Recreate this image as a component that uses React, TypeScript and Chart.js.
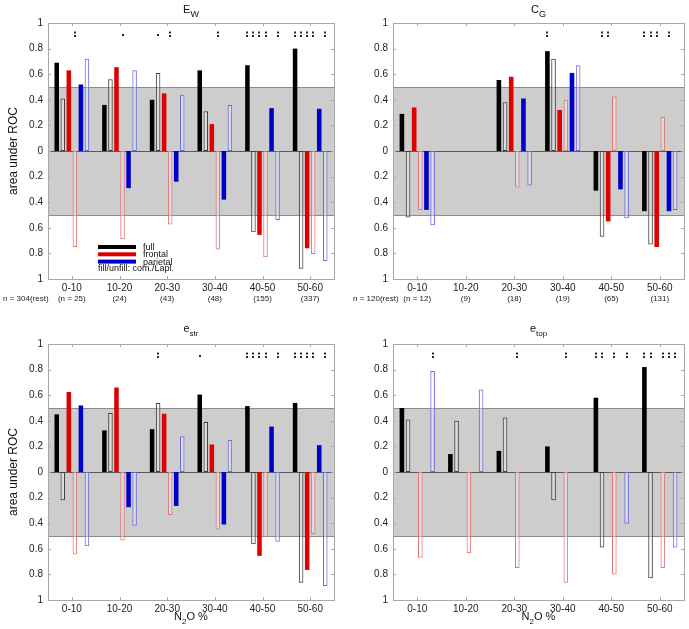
import React, { useEffect, useRef } from 'react';
import { Chart, registerables } from 'chart.js';
Chart.register(...registerables);

const FONT = '"Liberation Sans", Arial, Helvetica, sans-serif';

const categories = ['0-10', '10-20', '20-30', '30-40', '40-50', '50-60'];
const seriesNames = ['full', 'frontal', 'parietal'];
const legendNote = 'fill/unfill: com./Lapl.';
const xAxisTitle = ['N', '2', 'O %'];
const yAxisTitle = 'area under ROC';
const bandLimit = 0.5;
const sigLevel = 0.91;

// E_W  (positive = up, negative = down)
const ewFullCom = [0.69, 0.36, 0.40, 0.63, 0.67, 0.80];
const ewFullLapl = [0.41, 0.56, 0.61, 0.31, -0.635, -0.92];
const ewFrontCom = [0.63, 0.655, 0.45, 0.21, -0.655, -0.76];
const ewFrontLapl = [-0.75, -0.69, -0.575, -0.77, -0.83, -0.805];
const ewPariCom = [0.52, -0.29, -0.24, -0.38, 0.335, 0.33];
const ewPariLapl = [0.72, 0.63, 0.44, 0.36, -0.54, -0.86];
const ewSig = [
  [0, 0, 0, 2, 0, 0],
  [0, 0, 0, 1, 0, 0],
  [0, 1, 0, 2, 0, 0],
  [0, 0, 0, 2, 0, 0],
  [2, 2, 2, 2, 0, 2],
  [2, 2, 2, 2, 0, 2],
];
const ewCounts = ['(n = 25)', '(24)', '(43)', '(48)', '(155)', '(337)'];
const ewRest = 'n = 304(rest)';

// C_G
const cgFullCom = [0.29, 0, 0.555, 0.78, -0.31, -0.47];
const cgFullLapl = [-0.52, 0, 0.38, 0.72, -0.67, -0.73];
const cgFrontCom = [0.34, 0, 0.58, 0.32, -0.55, -0.75];
const cgFrontLapl = [-0.46, 0, -0.285, 0.40, 0.425, 0.265];
const cgPariCom = [-0.46, 0, 0.41, 0.61, -0.30, -0.47];
const cgPariLapl = [-0.58, 0, -0.27, 0.67, -0.525, -0.46];
const cgSig = [
  [0, 0, 0, 0, 0, 0],
  [0, 0, 0, 0, 0, 0],
  [0, 0, 0, 0, 0, 0],
  [2, 0, 0, 0, 0, 0],
  [0, 2, 2, 0, 0, 0],
  [2, 2, 2, 0, 2, 0],
];
const cgCounts = ['(n = 12)', '(9)', '(18)', '(19)', '(65)', '(131)'];
const cgRest = 'n = 120(rest)';

// e_str
const esFullCom = [0.45, 0.325, 0.335, 0.605, 0.515, 0.54];
const esFullLapl = [-0.22, 0.46, 0.54, 0.39, -0.565, -0.865];
const esFrontCom = [0.625, 0.66, 0.455, 0.215, -0.655, -0.765];
const esFrontLapl = [-0.645, -0.535, -0.335, -0.45, -0.51, -0.485];
const esPariCom = [0.52, -0.275, -0.265, -0.41, 0.355, 0.21];
const esPariLapl = [-0.58, -0.42, 0.28, 0.25, -0.545, -0.89];
const esSig = [
  [0, 0, 0, 0, 0, 0],
  [0, 0, 0, 0, 0, 0],
  [0, 2, 0, 0, 0, 0],
  [1, 0, 0, 0, 0, 0],
  [2, 2, 2, 2, 0, 2],
  [2, 2, 2, 2, 0, 2],
];

// e_top
const etFullCom = [0.50, 0.14, 0.165, 0.20, 0.58, 0.82];
const etFullLapl = [0.41, 0.40, 0.425, -0.22, -0.59, -0.83];
const etFrontCom = [0, 0, 0, 0, 0, 0];
const etFrontLapl = [-0.67, -0.635, -0.75, -0.865, -0.80, -0.75];
const etPariCom = [0, 0, 0, 0, 0, 0];
const etPariLapl = [0.79, 0.645, 0, 0, -0.405, -0.59];
const etSig = [
  [0, 0, 0, 0, 0, 2],
  [0, 0, 0, 0, 0, 0],
  [0, 0, 0, 2, 0, 0],
  [0, 0, 0, 2, 0, 0],
  [2, 2, 0, 2, 0, 2],
  [2, 2, 0, 2, 2, 2],
];

const seriesStyles = [
  { bg: '#000000', border: '#000000', bw: 0 },
  { bg: 'rgba(255,255,255,0.3)', border: '#3c3c3c', bw: 1 },
  { bg: '#e00000', border: '#e00000', bw: 0 },
  { bg: 'rgba(255,255,255,0.3)', border: '#e07474', bw: 1 },
  { bg: '#0000cc', border: '#0000cc', bw: 0 },
  { bg: 'rgba(255,255,255,0.3)', border: '#6a6ae0', bw: 1 },
];

type PanelCfg = {
  key: string; x: number; y: number; w: number; h: number;
  title: string[]; data: number[][]; sig: number[][];
  counts?: string[]; rest?: string; restX?: number;
  legend?: boolean; yTitle?: boolean; xTitle?: boolean;
  padTop: number; padRight: number; xAxisH: number; titleY: number; small?: boolean;
};

const panels: PanelCfg[] = [
  { key: 'ew', x: 0, y: 0, w: 345, h: 315, title: ['E', 'W'],
    data: [ewFullCom, ewFullLapl, ewFrontCom, ewFrontLapl, ewPariCom, ewPariLapl], sig: ewSig,
    counts: ewCounts, rest: ewRest, restX: 3, legend: true, yTitle: true,
    padTop: 23, padRight: 11, xAxisH: 36, titleY: 13 },
  { key: 'cg', x: 345, y: 0, w: 344, h: 315, title: ['C', 'G'],
    data: [cgFullCom, cgFullLapl, cgFrontCom, cgFrontLapl, cgPariCom, cgPariLapl], sig: cgSig,
    counts: cgCounts, rest: cgRest, restX: 8,
    padTop: 23, padRight: 5, xAxisH: 36, titleY: 13 },
  { key: 'es', x: 0, y: 315, w: 345, h: 314, title: ['e', 'str'],
    data: [esFullCom, esFullLapl, esFrontCom, esFrontLapl, esPariCom, esPariLapl], sig: esSig,
    yTitle: true, xTitle: true,
    padTop: 29, padRight: 11, xAxisH: 29, titleY: 17, small: true },
  { key: 'et', x: 345, y: 315, w: 344, h: 314, title: ['e', 'top'],
    data: [etFullCom, etFullLapl, etFrontCom, etFrontLapl, etPariCom, etPariLapl], sig: etSig,
    xTitle: true,
    padTop: 29, padRight: 5, xAxisH: 29, titleY: 17, small: true },
];

function hline(ctx: CanvasRenderingContext2D, x1: number, x2: number, y: number) {
  const yy = Math.round(y) + 0.5;
  ctx.beginPath(); ctx.moveTo(x1, yy); ctx.lineTo(x2, yy); ctx.stroke();
}
function vline(ctx: CanvasRenderingContext2D, x: number, y1: number, y2: number) {
  const xx = Math.round(x) + 0.5;
  ctx.beginPath(); ctx.moveTo(xx, y1); ctx.lineTo(xx, y2); ctx.stroke();
}

function drawSubText(ctx: CanvasRenderingContext2D, parts: string[], cx: number, y: number, big: number, sub: number) {
  ctx.textBaseline = 'alphabetic';
  ctx.textAlign = 'left';
  const fonts = parts.map((_, i) => `${i % 2 === 1 ? sub : big}px ${FONT}`);
  const widths = parts.map((t, i) => { ctx.font = fonts[i]; return ctx.measureText(t).width; });
  let x = cx - widths.reduce((a, b) => a + b, 0) / 2;
  parts.forEach((t, i) => {
    ctx.font = fonts[i];
    ctx.fillText(t, x, i % 2 === 1 ? y + big * 0.35 : y);
    x += widths[i];
  });
}

function makeDecor(p: PanelCfg) {
  return {
    id: 'decor_' + p.key,
    beforeDatasetsDraw(chart: any) {
      const { ctx, chartArea: a, scales } = chart;
      const y = scales.y;
      ctx.save();
      const yt = y.getPixelForValue(bandLimit);
      const yb = y.getPixelForValue(-bandLimit);
      ctx.fillStyle = '#cdcdcd';
      ctx.fillRect(a.left, yt, a.right - a.left, yb - yt);
      ctx.strokeStyle = '#8c8c8c';
      ctx.lineWidth = 1;
      hline(ctx, a.left, a.right, yt);
      hline(ctx, a.left, a.right, yb);
      ctx.strokeStyle = '#5a5a5a';
      hline(ctx, a.left, a.right, y.getPixelForValue(0));
      ctx.restore();
    },
    afterDraw(chart: any) {
      const { ctx, chartArea: a, scales } = chart;
      const xs = scales.x, ys = scales.y;
      ctx.save();
      // frame
      ctx.strokeStyle = '#a8a8a8';
      ctx.lineWidth = 1;
      ctx.strokeRect(Math.round(a.left) + 0.5, Math.round(a.top) + 0.5, Math.round(a.right - a.left), Math.round(a.bottom - a.top));
      // ticks
      categories.forEach((_, i) => {
        const px = xs.getPixelForValue(i);
        vline(ctx, px, a.bottom - 3, a.bottom);
        vline(ctx, px, a.top, a.top + 3);
      });
      ys.ticks.forEach((t: any) => {
        const py = ys.getPixelForValue(t.value);
        hline(ctx, a.left, a.left + 3, py);
        hline(ctx, a.right - 3, a.right, py);
      });
      // significance marks
      ctx.fillStyle = '#2a2a2a';
      const sy = ys.getPixelForValue(sigLevel);
      p.sig.forEach((row, i) => {
        row.forEach((lvl, s) => {
          if (!lvl) return;
          const el = chart.getDatasetMeta(s).data[i];
          const bx = Math.round(el.x);
          if (lvl === 2) {
            ctx.fillRect(bx - 1, sy - 3, 2, 2);
            ctx.fillRect(bx - 1, sy + 0.5, 2, 2);
          } else {
            ctx.fillRect(bx - 1, sy - 0.5, 2, 2);
          }
        });
      });
      // title
      ctx.fillStyle = '#111111';
      const cx = (a.left + a.right) / 2;
      if (p.small) drawSubText(ctx, p.title, cx, p.titleY, 11, 8);
      else drawSubText(ctx, p.title, cx, p.titleY, 11, 9);
      // y title
      if (p.yTitle) {
        ctx.save();
        ctx.translate(17, (a.top + a.bottom) / 2);
        ctx.rotate(-Math.PI / 2);
        ctx.font = `12px ${FONT}`;
        ctx.textAlign = 'center';
        ctx.textBaseline = 'alphabetic';
        ctx.fillText(yAxisTitle, 0, 0);
        ctx.restore();
      }
      // x title
      if (p.xTitle) {
        drawSubText(ctx, xAxisTitle, cx, a.bottom + 20, 11, 8);
      }
      // counts row
      if (p.counts) {
        ctx.font = `8px ${FONT}`;
        ctx.textBaseline = 'middle';
        ctx.fillStyle = '#222222';
        ctx.textAlign = 'center';
        p.counts.forEach((c, i) => ctx.fillText(c, xs.getPixelForValue(i), a.bottom + 20));
        if (p.rest) {
          ctx.textAlign = 'left';
          ctx.fillText(p.rest, p.restX || 0, a.bottom + 20);
        }
      }
      // legend
      if (p.legend) {
        const lx1 = a.left + 50, lx2 = a.left + 88;
        ctx.font = `9px ${FONT}`;
        ctx.textBaseline = 'middle';
        ctx.textAlign = 'left';
        seriesNames.forEach((name, i) => {
          const ly = a.top + 224 + i * 7.3;
          ctx.fillStyle = seriesStyles[i * 2].bg;
          ctx.fillRect(lx1, ly - 2, lx2 - lx1, 4);
          ctx.fillStyle = '#111111';
          ctx.fillText(name, a.left + 95, ly + 0.5);
        });
        ctx.fillText(legendNote, lx1, a.top + 246);
      }
      ctx.restore();
    },
  };
}

function Panel({ p }: { p: PanelCfg }) {
  const ref = useRef<HTMLCanvasElement | null>(null);
  useEffect(() => {
    if (!ref.current) return;
    const chart = new Chart(ref.current, {
      type: 'bar',
      data: {
        labels: categories,
        datasets: p.data.map((d, i) => ({
          label: seriesNames[Math.floor(i / 2)] + (i % 2 ? ' (Lapl.)' : ' (com.)'),
          data: d,
          backgroundColor: seriesStyles[i].bg,
          borderColor: seriesStyles[i].border,
          borderWidth: seriesStyles[i].bw,
          borderSkipped: false,
          categoryPercentage: 0.76,
          barPercentage: 0.75,
        })),
      },
      options: {
        responsive: false,
        maintainAspectRatio: false,
        animation: false,
        layout: { padding: { top: p.padTop, right: p.padRight, left: 0, bottom: 0 } },
        plugins: { legend: { display: false }, tooltip: { enabled: false }, title: { display: false } },
        scales: {
          x: {
            grid: { display: false, drawTicks: false },
            border: { display: false },
            ticks: { font: { family: FONT, size: 10 }, color: '#222222', padding: 3, maxRotation: 0, autoSkip: false },
            afterFit: (s: any) => { s.height = p.xAxisH; },
          },
          y: {
            min: -1,
            max: 1,
            grid: { display: false, drawTicks: false },
            border: { display: false },
            ticks: {
              stepSize: 0.2,
              font: { family: FONT, size: 10 },
              color: '#222222',
              padding: 5,
              callback: (v: any) => {
                const n = Math.abs(Math.round(Number(v) * 10) / 10);
                return n === 0 ? '0' : String(n);
              },
            },
            afterFit: (s: any) => { s.width = 48; },
          },
        },
      },
      plugins: [makeDecor(p)],
    } as any);
    return () => chart.destroy();
  }, [p]);
  return (
    <canvas
      ref={ref}
      width={p.w}
      height={p.h}
      style={{ position: 'absolute', left: p.x, top: p.y, width: p.w, height: p.h }}
    />
  );
}

export default function App() {
  return (
    <div style={{ position: 'absolute', left: 0, top: 0, width: 689, height: 629, background: '#ffffff' }}>
      {panels.map((p) => <Panel key={p.key} p={p} />)}
    </div>
  );
}
